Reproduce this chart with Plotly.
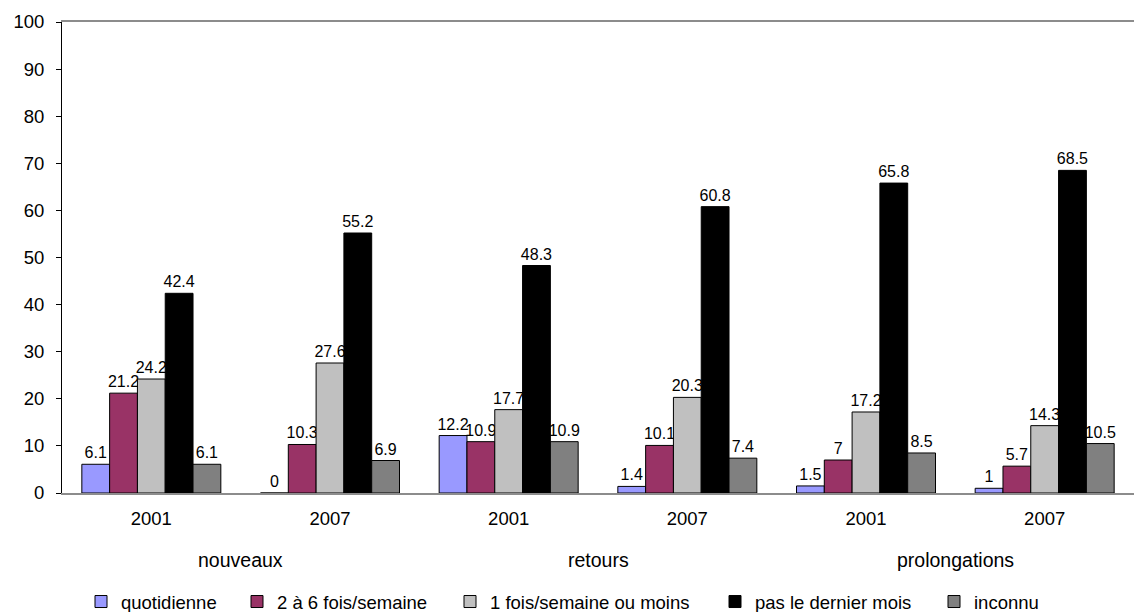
import plotly.graph_objects as go

# Survey: frequency of use, by status (nouveaux / retours / prolongations) and year
years = ["2001", "2007", "2001", "2007", "2001", "2007"]
groups = ["nouveaux", "retours", "prolongations"]

series_names = [
    "quotidienne",
    "2 à 6 fois/semaine",
    "1 fois/semaine ou moins",
    "pas le dernier mois",
    "inconnu",
]
quotidienne = [6.1, 0, 12.2, 1.4, 1.5, 1]
deux_a_six = [21.2, 10.3, 10.9, 10.1, 7, 5.7]
une_fois_ou_moins = [24.2, 27.6, 17.7, 20.3, 17.2, 14.3]
pas_dernier_mois = [42.4, 55.2, 48.3, 60.8, 65.8, 68.5]
inconnu = [6.1, 6.9, 10.9, 7.4, 8.5, 10.5]

series_values = [quotidienne, deux_a_six, une_fois_ou_moins, pas_dernier_mois, inconnu]
colors = ["#9999FF", "#993366", "#C0C0C0", "#000000", "#808080"]

FONT = "Arial, Liberation Sans, sans-serif"
W, H = 1134, 612
M_L, M_R, M_T, M_B = 62, 0, 22, 119
plot_w = W - M_L - M_R
plot_h = H - M_T - M_B

x_idx = list(range(len(years)))

# legend text start (px) for each series entry, and the row's centre line
legend_text_px = [121, 277, 490, 755, 974]
legend_row_px = 602

fig = go.Figure()
for i, (name, vals, col) in enumerate(zip(series_names, series_values, colors)):
    legend_id = "legend" if i == 0 else f"legend{i + 1}"
    fig.add_trace(
        go.Bar(
            x=x_idx,
            y=vals,
            name=name,
            marker=dict(color=col, line=dict(color="#000000", width=1)),
            texttemplate="%{y}",
            textposition="outside",
            textfont=dict(family=FONT, size=16, color="#000000"),
            constraintext="none",
            cliponaxis=False,
            showlegend=True,
            legend=legend_id,
        )
    )

# one legend box per series so each entry sits at its own spot
legend_layouts = {}
for i, tx in enumerate(legend_text_px):
    key = "legend" if i == 0 else f"legend{i + 1}"
    legend_layouts[key] = dict(
        x=(tx - 40 - M_L) / plot_w,
        xanchor="left",
        y=(M_T + plot_h - legend_row_px) / plot_h,
        yanchor="middle",
        orientation="h",
        font=dict(family=FONT, size=18.5, color="#000000"),
        bgcolor="rgba(0,0,0,0)",
        borderwidth=0,
    )

# status labels centred beneath each pair of years
annotations = []
for g, label in enumerate(groups):
    annotations.append(
        dict(
            x=2 * g + 0.5,
            xref="x",
            y=(M_T + plot_h - 560) / plot_h,
            yref="paper",
            text=label,
            showarrow=False,
            xanchor="center",
            yanchor="middle",
            font=dict(family=FONT, size=19.5, color="#000000"),
        )
    )

fig.update_layout(
    width=W,
    height=H,
    margin=dict(l=M_L, r=M_R, t=M_T, b=M_B, autoexpand=False),
    paper_bgcolor="#FFFFFF",
    plot_bgcolor="#FFFFFF",
    barmode="group",
    bargap=0.222,
    bargroupgap=0,
    showlegend=True,
    annotations=annotations,
    **legend_layouts,
)

fig.update_xaxes(
    tickmode="array",
    tickvals=x_idx,
    ticktext=years,
    range=[-0.5, len(years) - 0.5],
    showline=True,
    linecolor="#8C8C8C",
    linewidth=1.5,
    mirror=True,
    ticks="",
    showgrid=False,
    zeroline=False,
    tickfont=dict(family=FONT, size=18.5, color="#000000"),
    ticklabelstandoff=8,
)

fig.update_yaxes(
    range=[0, 100],
    tickmode="linear",
    tick0=0,
    dtick=10,
    showline=True,
    linecolor="#000000",
    linewidth=1,
    ticks="outside",
    ticklen=5,
    tickcolor="#000000",
    showgrid=False,
    zeroline=False,
    tickfont=dict(family=FONT, size=18.5, color="#000000"),
    ticklabelstandoff=8,
)

fig.write_html("out.html", config={"displayModeBar": False})
